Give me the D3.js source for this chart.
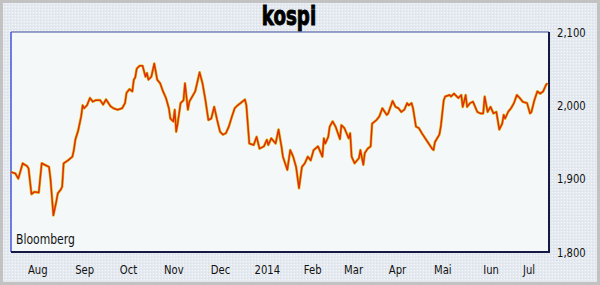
<!DOCTYPE html>
<html>
<head>
<meta charset="utf-8">
<script src="https://cdn.jsdelivr.net/npm/d3@7"></script>
<style>
  body { margin: 0; background: #fff; }
</style>
</head>
<body>
<div id="chart"></div>
<script>
"use strict";

// KOSPI closes (about every 2-3 px of the line)
var dates = [
  "2013-07-23","2013-07-26","2013-07-28","2013-07-31",
  "2013-08-03","2013-08-04","2013-08-06","2013-08-08","2013-08-11","2013-08-13","2013-08-15","2013-08-18",
  "2013-08-19","2013-08-21","2013-08-23","2013-08-24","2013-08-26","2013-08-27","2013-08-28","2013-08-31",
  "2013-09-03","2013-09-04","2013-09-05","2013-09-07","2013-09-09","2013-09-10","2013-09-11","2013-09-13",
  "2013-09-15","2013-09-17","2013-09-19","2013-09-22","2013-09-24","2013-09-26","2013-09-29",
  "2013-10-01","2013-10-04","2013-10-07","2013-10-09","2013-10-10","2013-10-12","2013-10-14","2013-10-15",
  "2013-10-16","2013-10-17","2013-10-19","2013-10-21","2013-10-23","2013-10-24","2013-10-25","2013-10-27",
  "2013-10-29","2013-10-31",
  "2013-11-02","2013-11-04","2013-11-06","2013-11-08","2013-11-09","2013-11-11","2013-11-12","2013-11-13",
  "2013-11-14","2013-11-16","2013-11-18","2013-11-19","2013-11-21","2013-11-22","2013-11-26","2013-11-29",
  "2013-12-01","2013-12-03","2013-12-05","2013-12-07","2013-12-09","2013-12-11","2013-12-13","2013-12-15",
  "2013-12-17","2013-12-19","2013-12-21","2013-12-23","2013-12-25","2013-12-27","2013-12-30","2013-12-31",
  "2014-01-02","2014-01-05","2014-01-07","2014-01-09","2014-01-12","2014-01-14","2014-01-15","2014-01-17",
  "2014-01-20","2014-01-22","2014-01-24","2014-01-25","2014-01-28","2014-01-30",
  "2014-02-01","2014-02-03","2014-02-05","2014-02-07","2014-02-09","2014-02-11","2014-02-13","2014-02-15",
  "2014-02-18","2014-02-21","2014-02-22","2014-02-23","2014-02-25","2014-02-26","2014-02-28",
  "2014-03-02","2014-03-05","2014-03-06","2014-03-08","2014-03-11","2014-03-12","2014-03-13","2014-03-15",
  "2014-03-18","2014-03-19","2014-03-21","2014-03-22","2014-03-24","2014-03-26","2014-03-27","2014-03-30",
  "2014-04-01","2014-04-03","2014-04-06","2014-04-07","2014-04-09","2014-04-10","2014-04-12","2014-04-14",
  "2014-04-16","2014-04-18","2014-04-20","2014-04-21","2014-04-23","2014-04-24","2014-04-26","2014-04-28",
  "2014-04-30",
  "2014-05-02","2014-05-04","2014-05-07","2014-05-08","2014-05-09","2014-05-12","2014-05-13","2014-05-15",
  "2014-05-16","2014-05-19","2014-05-20","2014-05-22","2014-05-25","2014-05-27","2014-05-28","2014-05-30",
  "2014-05-31",
  "2014-06-02","2014-06-04","2014-06-07","2014-06-09","2014-06-11","2014-06-12","2014-06-14","2014-06-16",
  "2014-06-18","2014-06-20","2014-06-22","2014-06-24","2014-06-25","2014-06-26","2014-06-28","2014-06-30",
  "2014-07-02","2014-07-04","2014-07-06","2014-07-08","2014-07-11","2014-07-13","2014-07-14","2014-07-16",
  "2014-07-18","2014-07-20","2014-07-22","2014-07-24","2014-07-25"
];

var closes = [
  1909,1907,1900,1921,
  1917,1914,1879,1882,1881,1921,1919,1916,1900,1850,1869,1880,1885,1889,1921,1925,
  1930,1939,1953,1966,1985,2000,1996,2000,2010,2005,2007,2007,2001,2008,1999,
  1996,1994,1996,2003,2017,2022,2019,2035,2038,2050,2054,2054,2039,2044,2035,2039,2057,2035,
  2030,2019,2010,1996,1982,1978,1994,1964,1975,2003,2007,2030,1994,2005,2019,2045,
  2030,2007,1980,1982,1998,1980,1964,1960,1962,1971,1984,1996,2000,2003,2008,2000,
  1948,1946,1957,1941,1944,1953,1946,1955,1948,1967,1944,1930,1912,1939,
  1930,1916,1887,1916,1921,1930,1925,1939,1944,1930,1955,1948,1957,1971,1978,
  1971,1954,1973,1969,1955,1962,1930,1921,1928,1939,1919,1935,1941,1944,1975,1980,
  1985,1996,1987,1989,2000,2006,1998,1996,1991,1994,2003,2000,2003,1996,1971,1969,1962,
  1956,1950,1941,1939,1950,1960,1971,2007,2012,2014,2012,2016,2010,2014,1998,2014,1998,
  2003,2005,1991,1989,1989,2012,1991,1998,1989,1991,1967,1975,1987,1982,1991,1996,
  2003,2014,2010,2005,2003,1989,1991,2007,2019,2016,2019,2028,2030
];

// axis labels
var tickDates = ["2013-08-10","2013-09-11","2013-10-11","2013-11-11","2013-12-13","2014-01-14",
                 "2014-02-14","2014-03-14","2014-04-13","2014-05-14","2014-06-16","2014-07-12"];
var monthLabels = ["Aug","Sep","Oct","Nov","Dec","2014","Feb","Mar","Apr","Mai","Iun","Jul"];
var yTicks = [1800, 1900, 2000, 2100];
var dateRange = ["2013-07-23", "2014-07-26"];

var parse = d3.timeParse("%Y-%m-%d");
var series = dates.map(function(d, i) { return {date: parse(d), close: closes[i]}; });

var font = '"Liberation Sans Narrow", "DejaVu Sans Condensed", "Arial Narrow", sans-serif';
var squeeze = 0.86;   // narrow the condensed font a bit more, like the original

var W = 600, H = 285;
var margin = {top: 32, right: 51, bottom: 33, left: 11},
    width = W - margin.left - margin.right,
    height = H - margin.top - margin.bottom;

var svg = d3.select("#chart")
  .append("svg")
    .attr("width", W)
    .attr("height", H);

// dotted backdrop
var pat = svg.append("defs").append("pattern")
    .attr("id", "dots")
    .attr("width", 3).attr("height", 3)
    .attr("patternUnits", "userSpaceOnUse");
pat.append("rect").attr("width", 3).attr("height", 3).attr("fill", "#e5eaf0");
pat.append("rect").attr("width", 1).attr("height", 1).attr("fill", "#f5f7fa");
pat.append("rect").attr("x", 1).attr("y", 2).attr("width", 1).attr("height", 1).attr("fill", "#d9dfe7");

svg.append("rect")
    .attr("x", 1.5).attr("y", 1.5)
    .attr("width", W - 3).attr("height", H - 3)
    .attr("fill", "url(#dots)")
    .attr("stroke", "#c2c2c2")
    .attr("stroke-width", 3);

// title, squeezed horizontally
svg.append("text")
    .attr("transform", "translate(289,25) scale(0.78,1)")
    .attr("text-anchor", "middle")
    .style("font-family", font)
    .style("font-size", "26px")
    .style("font-weight", "bold")
    .attr("fill", "#000")
    .attr("stroke", "#000")
    .attr("stroke-width", 0.9)
    .text("kospi");

var g = svg.append("g")
    .attr("transform", "translate(" + margin.left + "," + margin.top + ")");

var x = d3.scaleTime()
    .domain(dateRange.map(parse))
    .range([0, width]);

var y = d3.scaleLinear()
    .domain([1800, 2100])
    .range([height, 0]);

// plot panel
g.append("rect")
    .attr("width", width).attr("height", height)
    .attr("fill", "#f4f8f9");
g.append("line").attr("x1", 0).attr("x2", width).attr("y1", 0).attr("y2", 0)
    .attr("stroke", "#3d4a96").attr("stroke-width", 1.2);
g.append("line").attr("x1", 0).attr("x2", 0).attr("y1", 0).attr("y2", height)
    .attr("stroke", "#4357d8").attr("stroke-width", 1.5);
g.append("line").attr("x1", width).attr("x2", width).attr("y1", 0).attr("y2", height + 1)
    .attr("stroke", "#151a45").attr("stroke-width", 2);
g.append("line").attr("x1", 0).attr("x2", width + 1).attr("y1", height).attr("y2", height)
    .attr("stroke", "#151a45").attr("stroke-width", 2);

// the index line: yellow under-stroke, red-orange on top
var line = d3.line()
    .x(function(d) { return x(d.date); })
    .y(function(d) { return y(d.close); });

g.append("path")
    .datum(series)
    .attr("fill", "none")
    .attr("stroke", "#d8c410")
    .attr("stroke-width", 2.7)
    .attr("stroke-linejoin", "round")
    .attr("d", line);

g.append("path")
    .datum(series)
    .attr("fill", "none")
    .attr("stroke", "#e42c14")
    .attr("stroke-width", 1.5)
    .attr("stroke-linejoin", "round")
    .attr("d", line);

g.append("text")
    .attr("transform", "translate(5," + (height - 8) + ") scale(" + squeeze + ",1)")
    .style("font-family", font)
    .style("font-size", "14px")
    .attr("fill", "#111")
    .text("Bloomberg");

// Y axis on the right
var yAxis = g.append("g")
    .attr("transform", "translate(" + width + ",0)")
    .call(d3.axisRight(y)
      .tickValues(yTicks)
      .tickFormat(d3.format(","))
      .tickSize(0)
      .tickPadding(8 / squeeze));

// X axis
var xAxis = g.append("g")
    .attr("transform", "translate(0," + height + ")")
    .call(d3.axisBottom(x)
      .tickValues(tickDates.map(parse))
      .tickFormat(function(d, i) { return monthLabels[i]; })
      .tickSize(0)
      .tickPadding(13));

[yAxis, xAxis].forEach(function(a) {
  a.select(".domain").remove();
  a.selectAll("text")
    .attr("transform", "scale(" + squeeze + ",1)")
    .style("font-family", font)
    .style("font-size", "13px")
    .attr("fill", "#111");
});
</script>
</body>
</html>
